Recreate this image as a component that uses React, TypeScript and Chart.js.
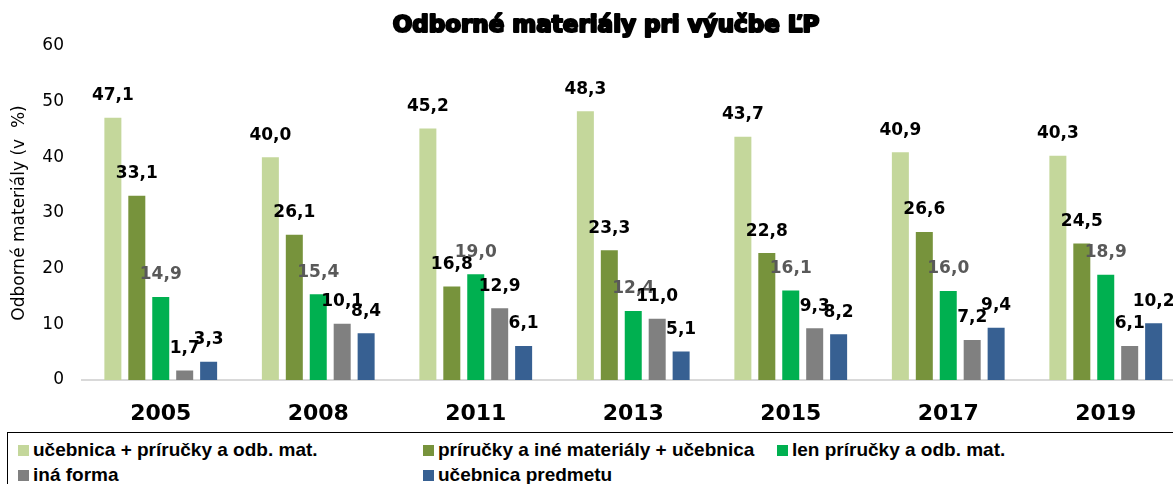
import React, { useEffect, useRef } from "react";
import { Chart, registerables } from "chart.js";

Chart.register(...registerables);

const years = ["2005", "2008", "2011", "2013", "2015", "2017", "2019"];
const seriesNames = [
  "učebnica + príručky a odb. mat.",
  "príručky a iné materiály + učebnica",
  "len príručky a odb. mat.",
  "iná forma",
  "učebnica predmetu",
];
const ucebnicaPrirucky = [47.1, 40.0, 45.2, 48.3, 43.7, 40.9, 40.3];
const priruckyIne = [33.1, 26.1, 16.8, 23.3, 22.8, 26.6, 24.5];
const lenPrirucky = [14.9, 15.4, 19.0, 12.4, 16.1, 16.0, 18.9];
const inaForma = [1.7, 10.1, 12.9, 11.0, 9.3, 7.2, 6.1];
const ucebnicaPredmetu = [3.3, 8.4, 6.1, 5.1, 8.2, 9.4, 10.2];
const yTicks = [0, 10, 20, 30, 40, 50, 60];

const colors = ["#c4d79b", "#77933c", "#00b050", "#808080", "#376092"];
const labelColors = ["#000000", "#000000", "#595959", "#000000", "#000000"];
const titleText = "Odborné materiály pri výučbe ĽP";
const yTitle = "Odborné materiály (v  %)";

const fmt = (v: number) => v.toFixed(1).replace(".", ",");

const dataLabelPlugin = {
  id: "dataLabels",
  afterDatasetsDraw(chart: any) {
    const ctx = chart.ctx;
    ctx.save();
    ctx.font = "bold 17px 'DejaVu Sans'";
    ctx.textAlign = "center";
    ctx.textBaseline = "middle";
    chart.data.datasets.forEach((ds: any, i: number) => {
      const meta = chart.getDatasetMeta(i);
      ctx.fillStyle = labelColors[i];
      meta.data.forEach((el: any, j: number) => {
        ctx.fillText(fmt(ds.data[j]), el.x, el.y - 22);
      });
    });
    ctx.restore();
  },
};

const titlePlugin = {
  id: "customTitle",
  afterDraw(chart: any) {
    const ctx = chart.ctx;
    ctx.save();
    ctx.font = "bold 23px 'DejaVu Sans'";
    ctx.textAlign = "center";
    ctx.textBaseline = "alphabetic";
    ctx.fillStyle = "#000";
    ctx.strokeStyle = "#000";
    ctx.lineWidth = 2.2;
    ctx.lineJoin = "round";
    const x = 606;
    ctx.strokeText(titleText, x, 32);
    ctx.fillText(titleText, x, 32);
    ctx.restore();
  },
};

export default function App() {
  const ref = useRef<HTMLCanvasElement>(null);
  useEffect(() => {
    if (!ref.current) return;
    const datasets = [ucebnicaPrirucky, priruckyIne, lenPrirucky, inaForma, ucebnicaPredmetu].map(
      (d, i) => ({
        label: seriesNames[i],
        data: d,
        backgroundColor: colors[i],
        categoryPercentage: 0.76,
        barPercentage: 0.71,
      })
    );
    const chart = new Chart(ref.current, {
      type: "bar",
      data: { labels: years, datasets },
      options: {
        responsive: false,
        animation: false,
        devicePixelRatio: 1,
        layout: { padding: { top: 46, right: 5.5, left: 0, bottom: 0 } },
        plugins: {
          legend: { display: false },
          tooltip: { enabled: false },
          title: { display: false },
        },
        scales: {
          x: {
            grid: { display: false, drawTicks: false },
            border: { display: true, color: "#d9d9d9", width: 2 },
            ticks: {
              color: "#000",
              font: { family: "'DejaVu Sans'", size: 22, weight: "bold" },
              padding: 21,
            },
            afterFit: (s: any) => {
              s.height = 51;
            },
          },
          y: {
            min: 0,
            max: 60,
            afterBuildTicks: (s: any) => {
              s.ticks = yTicks.map((v) => ({ value: v }));
            },
            grid: { display: false, drawTicks: false },
            border: { display: false },
            ticks: {
              color: "#000",
              font: { family: "'DejaVu Sans'", size: 17 },
              padding: 18,
            },
            title: {
              display: true,
              text: yTitle,
              color: "#000",
              font: { family: "'DejaVu Sans'", size: 17 },
              padding: { top: 9, bottom: 0 },
            },
            afterFit: (s: any) => {
              s.width = 82;
            },
          },
        },
      } as any,
      plugins: [dataLabelPlugin, titlePlugin],
    });
    return () => chart.destroy();
  }, []);

  const cols = [10, 415, 769];
  const legendItems = [
    { i: 0, row: 0, col: 0 },
    { i: 1, row: 0, col: 1 },
    { i: 2, row: 0, col: 2 },
    { i: 3, row: 1, col: 0 },
    { i: 4, row: 1, col: 1 },
  ];

  return (
    <div
      style={{
        position: "absolute",
        left: 0,
        top: 0,
        width: 1173,
        height: 484,
        overflow: "hidden",
        background: "#fff",
      }}
    >
      <canvas ref={ref} width={1190} height={431} style={{ position: "absolute", left: 0, top: 0 }} />
      <div
        style={{
          position: "absolute",
          left: 7,
          top: 432,
          width: 1200,
          height: 80,
          border: "1px solid #000",
          boxSizing: "border-box",
        }}
      >
        {legendItems.map((it) => (
          <div
            key={it.i}
            style={{
              position: "absolute",
              left: cols[it.col],
              top: it.row === 0 ? 5 : 30,
              height: 24,
              display: "flex",
              alignItems: "center",
              whiteSpace: "nowrap",
              fontFamily: "'Liberation Sans', Arial, sans-serif",
              fontWeight: "bold",
              fontSize: 19,
              color: "#000",
            }}
          >
            <span
              style={{
                display: "inline-block",
                width: 11,
                height: 11,
                background: colors[it.i],
                marginRight: 4,
              }}
            />
            <span>{seriesNames[it.i]}</span>
          </div>
        ))}
      </div>
    </div>
  );
}
